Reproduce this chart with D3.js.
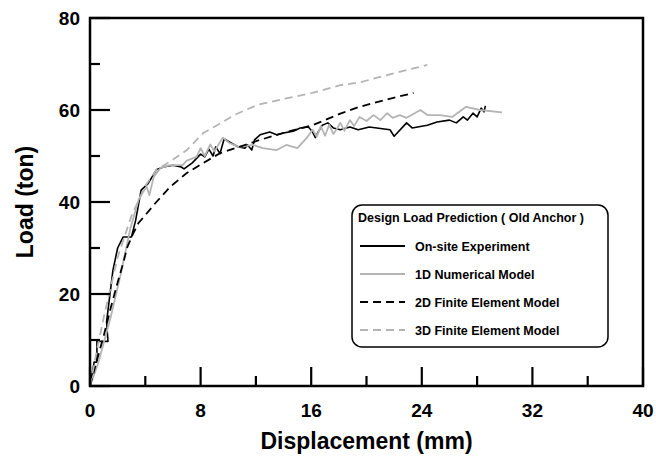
<!DOCTYPE html>
<html>
<head>
<meta charset="utf-8">
<script src="https://cdn.jsdelivr.net/npm/d3@7"></script>
<style>
  body { margin: 0; background: #fff; }
  svg { display: block; font-family: "Liberation Sans", Arial, sans-serif; }
</style>
</head>
<body>
<svg></svg>
<script>
var width = 656;
var height = 461;

// axis ticks
var xTicks = [0, 8, 16, 24, 32, 40];
var xMinor = [4, 12, 20, 28, 36];
var yTicks = [0, 20, 40, 60, 80];
var yMinor = [10, 30, 50, 70];

// series: [displacement mm, load ton]
var experiment = [[0,0],[0.3,5.2],[0.5,5.2],[0.5,9.7],[1.3,9.7],[1.2,14],[1.66,25.2],[2.0,30],[2.4,32.4],
  [3.0,32.4],[3.3,36],[3.7,42.6],[4.2,44],[4.8,47],[5.3,47.6],[6,48],[6.6,47.6],[6.8,47.2],[7.4,48.5],
  [8,50.4],[8.3,49.8],[8.6,51.5],[8.9,50],[9.1,52],[9.4,50.5],[9.7,53.7],[10.7,52],[11.2,51.7],[11.4,52.4],
  [11.7,51.3],[11.9,53.5],[12.3,54.6],[13,55.2],[13.5,54.6],[14,55],[14.7,55.4],[15.2,56.1],[15.8,56.3],
  [16.1,55.2],[16.3,54],[16.5,55.2],[16.8,56.7],[17.2,57.2],[17.6,56.1],[18.1,55.7],[18.8,56.3],[19.4,55.7],
  [20.2,56.3],[21.7,55.7],[22,54.3],[22.9,57.2],[23.3,56.1],[24.4,56.7],[25.1,57.4],[26,57.8],[26.5,57.2],
  [27,58.5],[27.3,57.8],[27.7,59.3],[28,58.5],[28.3,60.4],[28.5,59.6],[28.6,60.9]];

var numerical1D = [[0,0],[0.6,5],[1.5,15],[2.2,24],[2.9,34],[3.5,40.4],[3.8,42],[4.1,43.3],[4.3,41.5],
  [4.6,45.4],[5.1,47.4],[5.8,48],[6.7,48],[7,49],[7.7,49.8],[8,51.7],[8.3,50],[8.7,52.5],[9.0,51],[9.6,54],
  [10.1,52.8],[10.8,52],[11.8,52.4],[12.5,51.7],[13.5,51.3],[14.2,52.4],[15,51.7],[15.7,54],[16.1,55.7],
  [16.4,54.2],[16.7,56.5],[17,54.4],[17.3,56.8],[17.6,54.8],[17.9,56.1],[18.1,57.2],[18.4,55.5],[18.8,57.8],
  [19.1,56.5],[19.5,58.5],[20,57.6],[20.5,58.9],[21,57.8],[21.5,59.3],[21.9,58.3],[22.4,58.9],[22.9,58.3],
  [23.9,60],[24.4,58.9],[25.3,58.9],[26.2,58.5],[27.2,60.7],[28.2,60],[29.8,59.5]];

var fem2D = [[0,0],[0.5,5.6],[1,11],[1.5,17],[2,22.5],[2.4,26.7],[2.7,30.2],[3.1,33],[3.5,35.4],[4.1,37.5],
  [4.8,40],[5.8,43.3],[7,46.3],[8.2,48.5],[9.4,50.6],[10.8,52],[12.3,53.5],[14.2,55.2],[16.1,56.7],
  [18.1,59.2],[19.5,60.7],[21.5,62.3],[23.4,63.7]];

var fem3D = [[0,0],[0.5,7.8],[1,15],[2,28],[3,37],[4,43.5],[4.8,47],[5.8,48.8],[7,51.3],[8.2,55],
  [9.2,56.7],[10.5,59],[12.1,61.1],[14,62.4],[16.1,63.7],[18.1,65.4],[19.5,66],[22,68],[24.4,69.8]];

var seriesNames = ['On-site Experiment', '1D Numerical Model', '2D Finite Element Model', '3D Finite Element Model'];
var seriesColors = ['#000000', '#b4b4b4', '#000000', '#b4b4b4'];
var seriesDash = [null, null, '8,5', '8,5'];
var allSeries = [experiment, numerical1D, fem2D, fem3D];

var svg = d3.select('svg')
    .attr('width', width)
    .attr('height', height);

var plotL = 90, plotR = 643, plotT = 18, plotB = 386;

var x = d3.scaleLinear().domain([0, 40]).range([plotL, plotR]);
var y = d3.scaleLinear().domain([0, 80]).range([plotB, plotT]);

var line = d3.line()
    .x(function(d){ return x(d[0]); })
    .y(function(d){ return y(d[1]); });

// curves (drawn first, axes on top)
svg.selectAll('path.series')
    .data(allSeries)
    .enter().append('path')
    .attr('class', 'series')
    .attr('d', line)
    .attr('fill', 'none')
    .attr('stroke', function(d, i){ return seriesColors[i]; })
    .attr('stroke-width', function(d, i){ return i == 0 ? 1.6 : 1.8; })
    .attr('stroke-dasharray', function(d, i){ return seriesDash[i]; })
    .attr('stroke-linejoin', 'round');

// frame
svg.append('rect')
    .attr('x', plotL).attr('y', plotT)
    .attr('width', plotR - plotL).attr('height', plotB - plotT)
    .attr('fill', 'none').attr('stroke', '#000').attr('stroke-width', 2.5);

// inward ticks
var ticks = svg.append('g').attr('stroke', '#000').attr('stroke-width', 2.2);
ticks.selectAll('line.xt')
    .data(xTicks.concat(xMinor))
    .enter().append('line')
    .attr('x1', function(d){ return x(d); }).attr('x2', function(d){ return x(d); })
    .attr('y1', plotB)
    .attr('y2', function(d){ return xTicks.indexOf(d) >= 0 ? plotB - 19 : plotB - 10; });
ticks.selectAll('line.yt')
    .data(yTicks.concat(yMinor))
    .enter().append('line')
    .attr('y1', function(d){ return y(d); }).attr('y2', function(d){ return y(d); })
    .attr('x1', plotL)
    .attr('x2', function(d){ return yTicks.indexOf(d) >= 0 ? plotL + 20 : plotL + 10; });

// tick labels
svg.selectAll('text.xl')
    .data(xTicks)
    .enter().append('text')
    .attr('x', function(d){ return x(d); })
    .attr('y', 417)
    .attr('text-anchor', 'middle')
    .style('font-size', '19px').style('font-weight', 'bold')
    .text(function(d){ return d; });

svg.selectAll('text.yl')
    .data(yTicks)
    .enter().append('text')
    .attr('x', 80)
    .attr('y', function(d){ return y(d) + 7; })
    .attr('text-anchor', 'end')
    .style('font-size', '19px').style('font-weight', 'bold')
    .text(function(d){ return d; });

// axis titles
svg.append('text')
    .attr('x', (plotL + plotR) / 2).attr('y', 449)
    .attr('text-anchor', 'middle')
    .style('font-size', '23px').style('font-weight', 'bold')
    .text('Displacement (mm)');

svg.append('text')
    .attr('transform', 'translate(33,' + ((plotT + plotB) / 2) + ') rotate(-90)')
    .attr('text-anchor', 'middle')
    .style('font-size', '23px').style('font-weight', 'bold')
    .text('Load (ton)');

// legend
var lg = svg.append('g');
lg.append('rect')
    .attr('x', 352).attr('y', 205)
    .attr('width', 256).attr('height', 142)
    .attr('rx', 10).attr('ry', 10)
    .attr('fill', '#fff').attr('stroke', '#000').attr('stroke-width', 1.5);

lg.append('text')
    .attr('x', 358).attr('y', 222)
    .style('font-size', '12.5px').style('font-weight', 'bold')
    .text('Design Load Prediction ( Old Anchor )');

var rows = lg.selectAll('g.row')
    .data(seriesNames)
    .enter().append('g')
    .attr('transform', function(d, i){ return 'translate(0,' + (246 + i * 28) + ')'; });

rows.append('line')
    .attr('x1', 360).attr('x2', 405)
    .attr('y1', 0).attr('y2', 0)
    .attr('stroke', function(d, i){ return seriesColors[i]; })
    .attr('stroke-width', 1.8)
    .attr('stroke-dasharray', function(d, i){ return seriesDash[i]; });

rows.append('text')
    .attr('x', 415).attr('y', 4.5)
    .style('font-size', '12.5px').style('font-weight', 'bold')
    .text(function(d){ return d; });
</script>
</body>
</html>
